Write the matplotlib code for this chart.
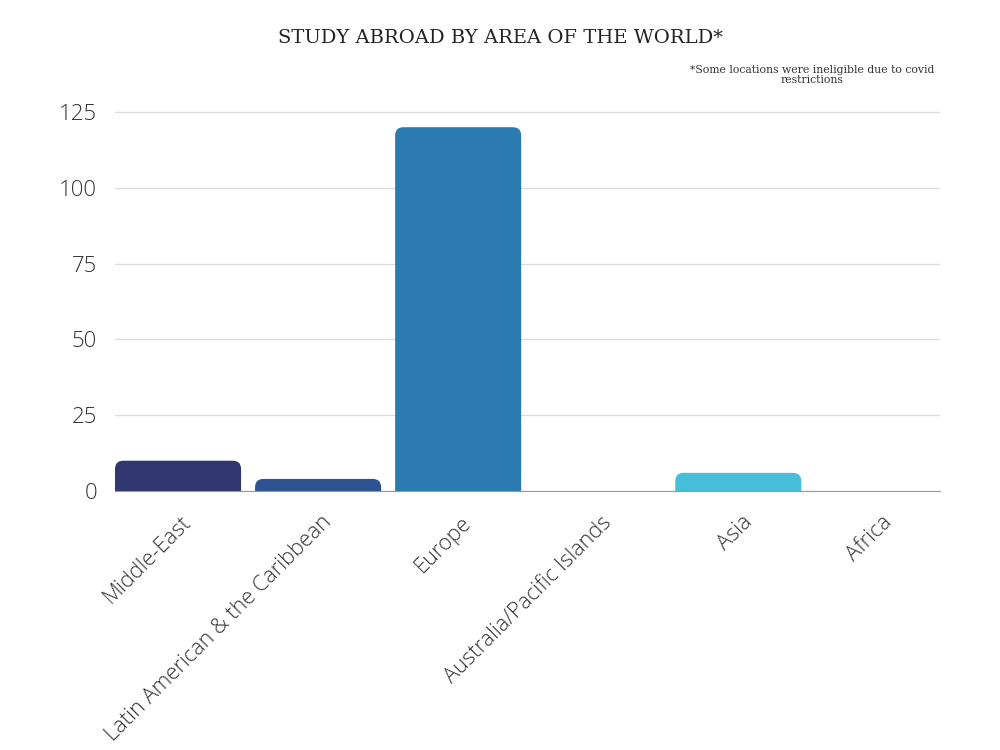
import matplotlib.pyplot as plt
from matplotlib.patches import FancyBboxPatch
import matplotlib.transforms as mtransforms

# Data
regions = ['Middle-East', 'Latin American & the Caribbean', 'Europe',
           'Australia/Pacific Islands', 'Asia', 'Africa']
students = [10, 4, 120, 0, 6, 0]
colors = ['#2f3670', '#2d5490', '#2c7bb0', '#2c9fc6', '#48bfd9', '#5fd0e0']
y_ticks = [0, 25, 50, 75, 100, 125]

fig = plt.figure(figsize=(10, 7.5), dpi=100)
ax = fig.add_axes([0.115, 0.3453, 0.825, 0.5134])

bar_w = 0.9
bars = ax.bar(range(len(regions)), students, width=bar_w, color='none')

# replace plain bars by bars with rounded top corners
for rect, val, c in zip(bars, students, colors):
    if val <= 0:
        continue
    x0 = rect.get_x()
    patch = FancyBboxPatch((x0, -10), bar_w, val + 10,
                           boxstyle='round,pad=0,rounding_size=0.06',
                           mutation_aspect=45, facecolor=c, edgecolor='none',
                           zorder=3, clip_on=True)
    ax.add_patch(patch)

ax.set_xlim(-0.45, 5.44)
ax.set_ylim(0, 127)
ax.set_yticks(y_ticks)
ax.set_yticklabels([str(t) for t in y_ticks], fontsize=16, color='#333333',
                   family='Open Sans', fontweight='light')
ax.grid(axis='y', color='#dddddd', linewidth=1, zorder=0)
ax.set_axisbelow(True)
for s in ['top', 'right', 'left']:
    ax.spines[s].set_visible(False)
ax.spines['bottom'].set_color('#999999')
ax.spines['bottom'].set_zorder(4)
ax.tick_params(axis='both', length=0)
ax.tick_params(axis='y', pad=13)

ax.set_xticks(range(len(regions)))
ax.set_xticklabels(regions, rotation=45, ha='right', va='top',
                   rotation_mode='anchor', fontsize=15.7, color='#333333',
                   family='Open Sans', fontweight='light')
offset = mtransforms.ScaledTranslation(0.03, -0.16, fig.dpi_scale_trans)
for lbl in ax.get_xticklabels():
    lbl.set_transform(lbl.get_transform() + offset)

fig.text(0.5, 0.949, 'STUDY ABROAD BY AREA OF THE WORLD*', ha='center',
         va='center', fontsize=14, family='DejaVu Serif', color='#222222')
fig.text(0.812, 0.900, '*Some locations were ineligible due to covid\nrestrictions',
         ha='center', va='center', fontsize=7.8, family='DejaVu Serif',
         color='#333333', linespacing=0.9)

fig.savefig('out.png', dpi=100, facecolor='white')
